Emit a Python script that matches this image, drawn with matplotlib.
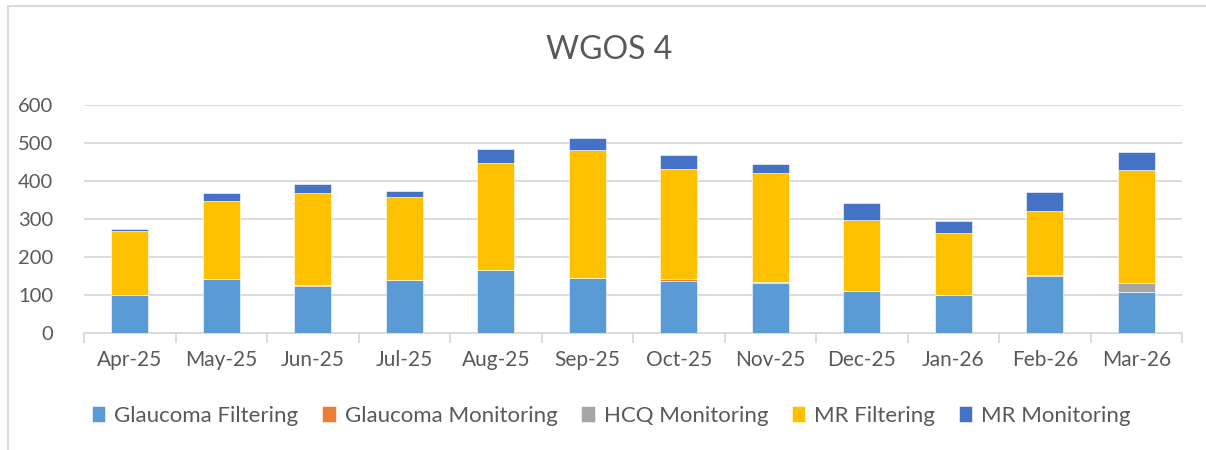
import matplotlib.pyplot as plt
from matplotlib.patches import Rectangle
import numpy as np

plt.rcParams['font.family'] = ['Lato', 'DejaVu Sans']

months = ['Apr-25', 'May-25', 'Jun-25', 'Jul-25', 'Aug-25', 'Sep-25',
          'Oct-25', 'Nov-25', 'Dec-25', 'Jan-26', 'Feb-26', 'Mar-26']
glaucoma_filtering = [100, 141, 125, 140, 166, 145, 138, 131, 110, 99, 151, 107]
glaucoma_monitoring = [0, 1, 1, 0, 1, 1, 5, 2, 1, 0, 1, 0]
hcq_monitoring = [0, 0, 0, 0, 0, 0, 0, 0, 0, 0, 0, 24]
mr_filtering = [168, 205, 243, 218, 281, 335, 288, 287, 187, 164, 170, 299]
mr_monitoring = [7, 21, 23, 16, 37, 31, 37, 26, 43, 33, 50, 47]

series = [('Glaucoma Filtering', glaucoma_filtering, '#5B9BD5'),
          ('Glaucoma Monitoring', glaucoma_monitoring, '#ED7D31'),
          ('HCQ Monitoring', hcq_monitoring, '#A5A5A5'),
          ('MR Filtering', mr_filtering, '#FFC000'),
          ('MR Monitoring', mr_monitoring, '#4472C4')]

txt = '#595959'
fig = plt.figure(figsize=(12.06, 4.5), dpi=100)
ax = fig.add_axes([84 / 1206, 1 - 333 / 450, 1098 / 1206, 228 / 450])

# chart area border (only top and left visible in the reference)
fig.patches.append(Rectangle((8 / 1206, -0.1), 1.2, 1 - 6 / 450 + 0.1,
                             transform=fig.transFigure, fill=False,
                             edgecolor='#d9d9d9', lw=1.5))

x = np.arange(len(months))
bottom = np.zeros(len(months))
for name, vals, col in series:
    ax.bar(x, vals, 0.4, bottom=bottom, color=col, label=name,
           edgecolor='white', linewidth=0.4, zorder=3)
    bottom += np.array(vals)

ax.set_xlim(-0.5, len(months) - 0.5)
ax.set_ylim(0, 600)
ax.set_yticks(range(0, 601, 100))
ax.yaxis.grid(True, color='#d9d9d9', lw=1.3, zorder=0)
ax.set_axisbelow(True)
for s in ['top', 'right', 'left']:
    ax.spines[s].set_visible(False)
ax.spines['bottom'].set_color('#d9d9d9')
ax.spines['bottom'].set_linewidth(1.3)
ax.tick_params(axis='y', length=0, pad=22, labelsize=14.5, labelcolor=txt)
ax.set_xticks(x)
ax.set_xticklabels(months)
ax.set_xticks(np.arange(-0.5, len(months), 1), minor=True)
ax.tick_params(axis='x', which='major', length=0, pad=12, labelsize=15, labelcolor=txt)
ax.tick_params(axis='x', which='minor', length=7, width=1.3, color='#d9d9d9')

fig.suptitle('WGOS 4', x=0.505, y=1 - 50 / 450, va='center', fontsize=23, color=txt)

fig.legend(loc='center', bbox_to_anchor=(0.507, 1 - 416 / 450), ncol=5,
           frameon=False, fontsize=16, labelcolor=txt, handlelength=0.6,
           handleheight=0.7, handletextpad=0.4, columnspacing=1.08)

fig.savefig('out.png', dpi=100)
